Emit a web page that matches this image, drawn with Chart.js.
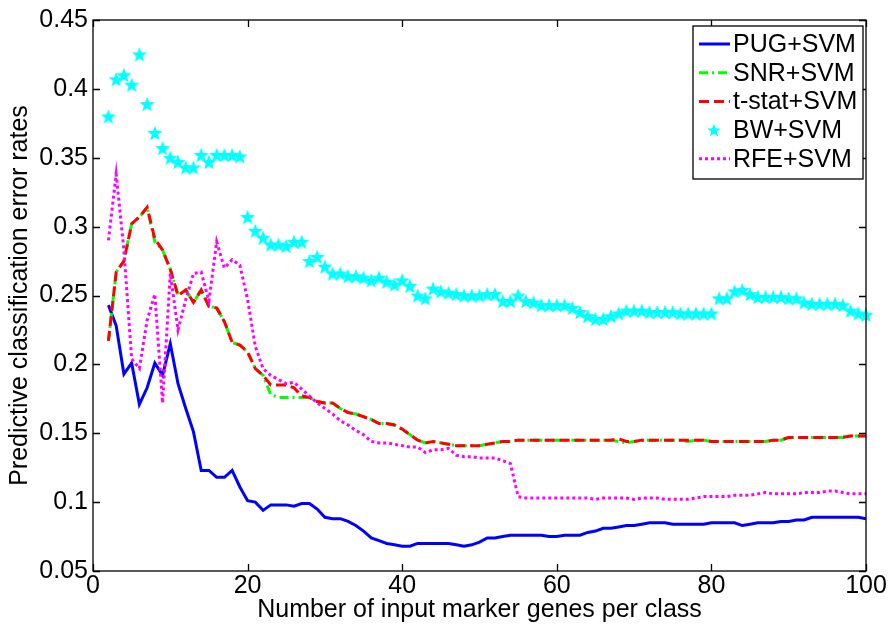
<!DOCTYPE html>
<html>
<head>
<meta charset="utf-8">
<script src="https://cdn.jsdelivr.net/npm/chart.js@4.4.1/dist/chart.umd.min.js"></script>
<style>
  html, body { margin: 0; padding: 0; background: #fff; }
</style>
</head>
<body>
<canvas id="errChart" width="889" height="627"></canvas>
<script>
// number of marker genes per class
const geneCounts = [2,3,4,5,6,7,8,9,10,11,12,13,14,15,16,17,18,19,20,21,22,23,24,25,26,27,28,29,30,31,32,33,34,35,36,37,38,39,40,41,42,43,44,45,46,47,48,49,50,51,52,53,54,55,56,57,58,59,60,61,62,63,64,65,66,67,68,69,70,71,72,73,74,75,76,77,78,79,80,81,82,83,84,85,86,87,88,89,90,91,92,93,94,95,96,97,98,99,100];

const pugSvm = [0.243,0.228,0.193,0.201,0.171,0.183,0.201,0.192,0.215,0.186,
  0.168,0.151,0.123,0.123,0.118,0.118,0.123,0.111,0.101,0.100,
  0.094,0.098,0.098,0.098,0.097,0.099,0.099,0.095,0.089,0.088,
  0.088,0.086,0.083,0.079,0.074,0.072,0.070,0.069,0.068,0.068,
  0.070,0.070,0.070,0.070,0.070,0.069,0.068,0.069,0.071,0.074,
  0.074,0.075,0.076,0.076,0.076,0.076,0.076,0.075,0.075,0.076,
  0.076,0.076,0.078,0.079,0.081,0.081,0.082,0.083,0.083,0.084,
  0.085,0.085,0.085,0.084,0.084,0.084,0.084,0.084,0.085,0.085,
  0.085,0.085,0.083,0.084,0.085,0.085,0.085,0.086,0.086,0.087,
  0.087,0.089,0.089,0.089,0.089,0.089,0.089,0.089,0.088];

const snrSvm = [0.217,0.267,0.275,0.302,0.307,0.314,0.289,0.283,0.269,0.250,
  0.254,0.245,0.254,0.242,0.241,0.231,0.216,0.214,0.209,0.197,
  0.192,0.178,0.176,0.176,0.176,0.176,0.176,0.173,0.172,0.172,
  0.168,0.165,0.164,0.162,0.160,0.157,0.157,0.156,0.153,0.149,
  0.145,0.143,0.144,0.143,0.142,0.141,0.141,0.141,0.141,0.142,
  0.143,0.144,0.144,0.145,0.145,0.145,0.145,0.145,0.145,0.145,
  0.145,0.145,0.145,0.145,0.145,0.145,0.144,0.143,0.144,0.145,
  0.145,0.145,0.145,0.145,0.145,0.144,0.145,0.145,0.144,0.144,
  0.144,0.144,0.144,0.144,0.144,0.144,0.145,0.145,0.147,0.147,
  0.147,0.147,0.147,0.147,0.147,0.147,0.148,0.148,0.148];

const tstatSvm = [0.217,0.267,0.275,0.302,0.307,0.314,0.291,0.283,0.269,0.250,
  0.254,0.245,0.254,0.242,0.241,0.231,0.216,0.214,0.209,0.197,
  0.192,0.185,0.185,0.185,0.183,0.177,0.176,0.173,0.172,0.172,
  0.168,0.165,0.164,0.162,0.160,0.157,0.157,0.156,0.153,0.149,
  0.145,0.143,0.144,0.143,0.142,0.141,0.141,0.141,0.141,0.142,
  0.143,0.144,0.144,0.145,0.145,0.145,0.145,0.145,0.145,0.145,
  0.145,0.145,0.145,0.145,0.145,0.145,0.146,0.144,0.144,0.145,
  0.145,0.145,0.145,0.145,0.145,0.145,0.145,0.145,0.144,0.144,
  0.144,0.144,0.144,0.144,0.144,0.144,0.145,0.145,0.147,0.147,
  0.147,0.147,0.147,0.147,0.147,0.147,0.148,0.148,0.148];

const bwSvm = [0.380,0.407,0.410,0.403,0.425,0.389,0.368,0.357,0.350,0.347,
  0.343,0.343,0.352,0.347,0.352,0.352,0.352,0.351,0.307,0.297,
  0.292,0.287,0.287,0.286,0.289,0.289,0.275,0.278,0.271,0.266,
  0.266,0.264,0.264,0.263,0.261,0.263,0.260,0.258,0.261,0.257,
  0.250,0.248,0.255,0.253,0.252,0.251,0.250,0.250,0.250,0.251,
  0.251,0.246,0.246,0.250,0.246,0.245,0.243,0.243,0.243,0.243,
  0.241,0.238,0.235,0.233,0.233,0.235,0.237,0.239,0.239,0.239,
  0.238,0.238,0.238,0.238,0.237,0.237,0.237,0.237,0.237,0.248,
  0.248,0.253,0.254,0.251,0.249,0.249,0.249,0.249,0.248,0.248,
  0.245,0.244,0.244,0.244,0.244,0.243,0.239,0.237,0.236];

const rfeSvm = [0.290,0.338,0.283,0.204,0.197,0.232,0.251,0.172,0.266,0.225,
  0.247,0.266,0.267,0.246,0.289,0.270,0.276,0.272,0.247,0.213,
  0.197,0.192,0.189,0.186,0.187,0.182,0.177,0.172,0.168,0.164,
  0.159,0.156,0.152,0.149,0.144,0.143,0.143,0.142,0.141,0.140,
  0.140,0.136,0.138,0.138,0.139,0.134,0.133,0.133,0.132,0.132,
  0.132,0.130,0.128,0.104,0.103,0.103,0.103,0.103,0.103,0.103,
  0.103,0.103,0.103,0.102,0.103,0.103,0.103,0.103,0.102,0.103,
  0.103,0.103,0.102,0.102,0.102,0.102,0.103,0.104,0.104,0.104,
  0.104,0.105,0.105,0.105,0.106,0.107,0.106,0.106,0.106,0.106,
  0.107,0.107,0.107,0.108,0.108,0.107,0.106,0.106,0.106];

const seriesNames = ['PUG+SVM', 'SNR+SVM', 't-stat+SVM', 'BW+SVM', 'RFE+SVM'];
const xTickValues = [0, 20, 40, 60, 80, 100];
const yTickValues = [0.05, 0.1, 0.15, 0.2, 0.25, 0.3, 0.35, 0.4, 0.45];

const FONT = 'Liberation Sans, Arial, sans-serif';
const FONT_SIZE = 25;

// filled five-pointed star used as the BW marker
function makeStar(r, color) {
    const size = Math.ceil(r * 2 + 2);
    const c = document.createElement('canvas');
    c.width = size;
    c.height = size;
    const g = c.getContext('2d');
    g.translate(size / 2, size / 2 + r * 0.1);
    g.beginPath();
    for (let i = 0; i < 10; i++) {
        const rad = i % 2 === 0 ? r : r * 0.42;
        const a = -Math.PI / 2 + i * Math.PI / 5;
        g.lineTo(rad * Math.cos(a), rad * Math.sin(a));
    }
    g.closePath();
    g.fillStyle = color;
    g.fill();
    return c;
}
const starMark = makeStar(8, '#00ffff');
const starSmall = makeStar(7, '#00ffff');

function toPoints(values) {
    return values.map((v, i) => ({ x: geneCounts[i], y: v }));
}

// box with inward ticks on all four sides
const axesBox = {
    id: 'axesBox',
    afterDatasetsDraw(chart) {
        const { ctx, chartArea: a, scales: { x, y } } = chart;
        const len = 7;
        ctx.save();
        ctx.strokeStyle = '#000';
        ctx.lineWidth = 1.3;
        ctx.setLineDash([]);
        ctx.strokeRect(a.left, a.top, a.right - a.left, a.bottom - a.top);
        ctx.beginPath();
        xTickValues.forEach(v => {
            const px = Math.round(x.getPixelForValue(v)) + 0.5;
            ctx.moveTo(px, a.bottom); ctx.lineTo(px, a.bottom - len);
            ctx.moveTo(px, a.top); ctx.lineTo(px, a.top + len);
        });
        yTickValues.forEach(v => {
            const py = Math.round(y.getPixelForValue(v)) + 0.5;
            ctx.moveTo(a.left, py); ctx.lineTo(a.left + len, py);
            ctx.moveTo(a.right, py); ctx.lineTo(a.right - len, py);
        });
        ctx.stroke();
        ctx.restore();
    }
};

// boxed legend in the upper right corner of the axes
const boxLegend = {
    id: 'boxLegend',
    afterDraw(chart) {
        const { ctx, chartArea: a } = chart;
        const w = 170, h = 153;
        const left = a.right - 3 - w, top = a.top + 6;
        const rowH = 28.7;
        ctx.save();
        ctx.fillStyle = '#fff';
        ctx.fillRect(left, top, w, h);
        ctx.strokeStyle = '#000';
        ctx.lineWidth = 1.3;
        ctx.setLineDash([]);
        ctx.strokeRect(left, top, w, h);
        ctx.font = FONT_SIZE + 'px ' + FONT;
        ctx.textBaseline = 'middle';
        ctx.textAlign = 'left';
        chart.data.datasets.forEach((ds, i) => {
            const cy = top + 18 + i * rowH;
            if (ds.showLine === false) {
                ctx.drawImage(starSmall, left + 21 - starSmall.width / 2, cy - starSmall.height / 2);
            } else {
                ctx.beginPath();
                ctx.strokeStyle = ds.borderColor;
                ctx.lineWidth = ds.borderWidth;
                ctx.setLineDash(ds.borderDash || []);
                ctx.moveTo(left + 6, cy);
                ctx.lineTo(left + 37, cy);
                ctx.stroke();
                ctx.setLineDash([]);
            }
            ctx.fillStyle = '#000';
            ctx.fillText(ds.label, left + 40, cy + 1);
        });
        ctx.restore();
    }
};

new Chart(document.getElementById('errChart').getContext('2d'), {
    type: 'line',
    data: {
        datasets: [{
            label: seriesNames[0],
            data: toPoints(pugSvm),
            borderColor: '#0000ff',
            borderWidth: 3,
            pointRadius: 0,
            order: 5
        }, {
            label: seriesNames[1],
            data: toPoints(snrSvm),
            borderColor: '#00ff00',
            borderWidth: 3,
            borderDash: [9, 4, 2, 4],
            pointRadius: 0,
            order: 4
        }, {
            label: seriesNames[2],
            data: toPoints(tstatSvm),
            borderColor: '#ff0000',
            borderWidth: 3,
            borderDash: [10, 5],
            pointRadius: 0,
            order: 3
        }, {
            label: seriesNames[3],
            data: toPoints(bwSvm),
            showLine: false,
            pointStyle: starMark,
            pointRadius: 8,
            clip: false,
            order: 2
        }, {
            label: seriesNames[4],
            data: toPoints(rfeSvm),
            borderColor: '#ff00ff',
            borderWidth: 3,
            borderDash: [3, 3],
            pointRadius: 0,
            order: 1
        }]
    },
    options: {
        responsive: false,
        animation: false,
        layout: { padding: { top: 19, right: 23, left: 0, bottom: 0 } },
        elements: { line: { tension: 0, borderCapStyle: 'butt' } },
        scales: {
            x: {
                type: 'linear',
                min: 0,
                max: 100,
                afterBuildTicks: s => { s.ticks = xTickValues.map(v => ({ value: v })); },
                afterFit: s => { s.height = 56; },
                grid: { display: false, drawTicks: false },
                border: { display: false },
                ticks: { color: '#000', padding: 0, maxRotation: 0, font: { family: FONT, size: FONT_SIZE } },
                title: {
                    display: true,
                    text: 'Number of input marker genes per class',
                    color: '#000',
                    font: { family: FONT, size: FONT_SIZE },
                    padding: { top: 0, bottom: 2 }
                }
            },
            y: {
                type: 'linear',
                min: 0.05,
                max: 0.45,
                afterBuildTicks: s => { s.ticks = yTickValues.map(v => ({ value: v })); },
                afterFit: s => { s.width = 93; },
                grid: { display: false, drawTicks: false },
                border: { display: false },
                ticks: {
                    color: '#000',
                    padding: 5,
                    font: { family: FONT, size: FONT_SIZE },
                    callback: v => String(+v.toFixed(2))
                },
                title: {
                    display: true,
                    text: 'Predictive classification error rates',
                    color: '#000',
                    font: { family: FONT, size: FONT_SIZE },
                    padding: { top: 5, bottom: 0 }
                }
            }
        },
        plugins: {
            legend: { display: false },
            tooltip: { enabled: false }
        }
    },
    plugins: [axesBox, boxLegend]
});
</script>
</body>
</html>
